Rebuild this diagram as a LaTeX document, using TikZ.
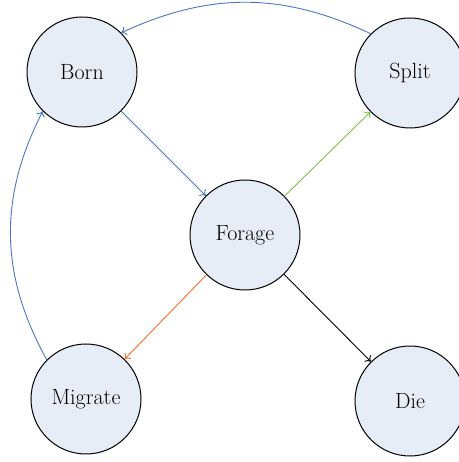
\documentclass[tikz,border=0pt]{standalone}
\usepackage{tikz}
\usetikzlibrary{arrows.meta,positioning}
\definecolor{cellfill}{HTML}{E7EDF6}
\definecolor{cblue}{HTML}{4A78BE}
\definecolor{cgreen}{HTML}{7CC04A}
\definecolor{corange}{HTML}{F2702E}
\begin{document}
\begin{tikzpicture}[
          node distance = 164pt and 164pt,
          state/.style = {draw, line width=1pt, circle, fill=cellfill, minimum size=110pt,
                          inner sep=0pt, font=\fontsize{22}{26}\selectfont},
          arr/.style = {-{To[length=5pt,width=9pt]}, line width=0.9pt},
        ]
        \useasboundingbox (-245pt,235pt) rectangle (213pt,-227pt);
        \node[state] (forage) {Forage};
        \node[state, on grid, above left=163pt and 163pt of forage] (born) {Born};
        \node[state, on grid, above right=162pt and 165pt of forage] (split) {Split};
        \node[state, on grid, below left=164pt and 159pt of forage] (migrate) {Migrate};
        \node[state, on grid, below right=166pt and 165pt of forage] (die) {Die};

        \draw[arr, cblue] (born) -- (forage);
        \draw[arr, cgreen] (forage) -- (split);
        \draw[arr, corange] (forage) -- (migrate);
        \draw[arr] (forage) -- (die);
        \draw[arr, cblue] (split.north west) to[bend right=25] (born.north east);
        \draw[arr, cblue] (migrate.north west) to[bend left=28] (born.south west);
      \end{tikzpicture}
\end{document}
